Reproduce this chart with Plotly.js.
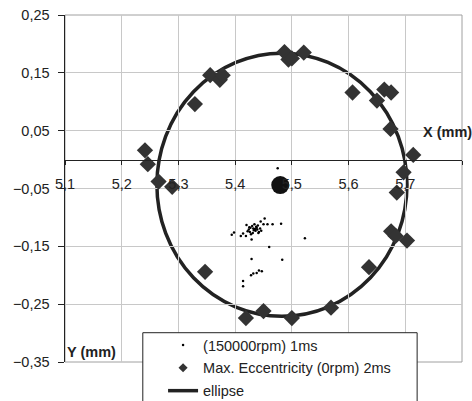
<!DOCTYPE html>
<html><head><meta charset="utf-8">
<script src="https://cdn.plot.ly/plotly-3.0.1.min.js"></script>
<style>html,body{margin:0;padding:0;background:#fff}#chart{width:472px;height:401px}</style>
</head><body><div id="chart"></div>
<script>
// 150000 rpm samples (1 ms)
var dotX = [5.475, 5.394, 5.398, 5.410, 5.414, 5.419, 5.420, 5.424, 5.426, 5.429, 5.430, 5.432, 5.434, 5.436, 5.437, 5.439, 5.442, 5.444, 5.446, 5.445, 5.452, 5.450, 5.457, 5.466, 5.481, 5.523, 5.460, 5.429, 5.483, 5.428, 5.432, 5.438, 5.442, 5.447, 5.414, 5.414, 5.427, 5.433, 5.438, 5.441, 5.431, 5.425, 5.435, 5.440, 5.422, 5.428];
var dotY = [-0.015, -0.130, -0.126, -0.132, -0.128, -0.132, -0.113, -0.121, -0.125, -0.138, -0.115, -0.119, -0.112, -0.123, -0.116, -0.121, -0.125, -0.119, -0.123, -0.107, -0.102, -0.112, -0.112, -0.112, -0.111, -0.136, -0.151, -0.172, -0.173, -0.200, -0.197, -0.196, -0.192, -0.193, -0.210, -0.219, -0.118, -0.122, -0.118, -0.127, -0.127, -0.117, -0.120, -0.114, -0.124, -0.129];
// Max. eccentricity (0 rpm) 2 ms
var diaX = [5.241, 5.246, 5.265, 5.289, 5.329, 5.356, 5.373, 5.378, 5.347, 5.487, 5.494, 5.500, 5.521, 5.607, 5.650, 5.663, 5.675, 5.674, 5.714, 5.697, 5.685, 5.675, 5.683, 5.703, 5.636, 5.569, 5.500, 5.450, 5.419];
var diaY = [0.016, -0.008, -0.038, -0.047, 0.096, 0.146, 0.138, 0.146, -0.194, 0.186, 0.173, 0.175, 0.185, 0.116, 0.102, 0.121, 0.116, 0.053, 0.008, -0.022, -0.057, -0.124, -0.132, -0.140, -0.186, -0.256, -0.274, -0.262, -0.274];
// centre point
var centerX = [5.4795];
var centerY = [-0.044];
// fitted ellipse: centre and semi-axes
var ellipseCenter = [5.4825, -0.0435];
var ellipseRadii = [0.2205, 0.2275];
var seriesNames = ['(150000rpm) 1ms', 'Max. Eccentricity (0rpm) 2ms', 'ellipse'];

var F = 'Arial, "Liberation Sans", sans-serif';
var traces = [
  {type:'scatter', mode:'markers', x:dotX, y:dotY, name:seriesNames[0], legendgroup:'a',
   marker:{size:2.5, color:'#000'}},
  {type:'scatter', mode:'markers', x:diaX, y:diaY, name:seriesNames[1], legendgroup:'b',
   showlegend:false, marker:{symbol:'diamond', size:12.5, color:'#333'}},
  {type:'scatter', mode:'markers', x:[null], y:[null], name:seriesNames[1], legendgroup:'b',
   marker:{symbol:'diamond', size:7, color:'#333'}},
  {type:'scatter', mode:'lines', x:[null], y:[null], name:seriesNames[2], legendgroup:'c',
   line:{color:'#222', width:3.5}},
  {type:'scatter', mode:'markers', x:centerX, y:centerY, showlegend:false,
   marker:{size:18, color:'#111'}}
];

var layout = {
  width:472, height:401,
  margin:{l:65, r:10, t:15, b:39, autoexpand:false},
  paper_bgcolor:'#fff', plot_bgcolor:'#fff',
  separators:',.',
  font:{family:F, size:14.5, color:'#222'},
  showlegend:true,
  xaxis:{range:[5.1,5.8], dtick:0.1, tick0:5.1, tickformat:'.1f',
    anchor:'free', position:0.5833,
    showline:true, linecolor:'#222', linewidth:1,
    showgrid:true, gridcolor:'#c8c8c8', gridwidth:1, zeroline:false,
    ticks:'outside', ticklen:4, tickcolor:'#222', ticklabelstandoff:7,
    tickfont:{family:F, size:14.5, color:'#222'}, fixedrange:true},
  yaxis:{range:[-0.35,0.25], dtick:0.1, tick0:0.25, tickformat:'.2f',
    showline:true, linecolor:'#222', linewidth:1.5,
    showgrid:true, gridcolor:'#c8c8c8', gridwidth:1, zeroline:false,
    ticks:'outside', ticklen:6, tickcolor:'#222', ticklabelstandoff:5,
    tickfont:{family:F, size:14.5, color:'#222'}, fixedrange:true},
  legend:{x:0.247, xanchor:'left', y:0.095, yanchor:'top',
    bgcolor:'rgba(0,0,0,0)', borderwidth:0, tracegroupgap:1,
    font:{family:F, size:14.5, color:'#222'}},
  shapes:[
    {type:'rect', xref:'paper', yref:'paper', x0:0, x1:1, y0:0, y1:1,
     line:{color:'#a0a0a0', width:1}, layer:'below'},
    {type:'circle', xref:'x', yref:'y',
     x0:ellipseCenter[0]-ellipseRadii[0], x1:ellipseCenter[0]+ellipseRadii[0],
     y0:ellipseCenter[1]-ellipseRadii[1], y1:ellipseCenter[1]+ellipseRadii[1],
     line:{color:'#222', width:3.5}, layer:'below'},
    {type:'rect', xref:'paper', yref:'paper', x0:0.196, x1:0.887, y0:-0.2, y1:0.0844,
     fillcolor:'#fff', line:{color:'#222', width:1}, layer:'above'}
  ],
  annotations:[
    {text:'<b>X (mm)</b>', xref:'paper', yref:'paper', x:0.897, y:0.664,
     xanchor:'left', yanchor:'middle', showarrow:false, font:{family:F, size:14.5, color:'#222'}},
    {text:'<b>Y (mm)</b>', xref:'paper', yref:'paper', x:0.0, y:0.029,
     xanchor:'left', yanchor:'middle', showarrow:false, font:{family:F, size:14.5, color:'#222'}}
  ]
};
Plotly.newPlot('chart', traces, layout, {displayModeBar:false, staticPlot:true});
</script></body></html>
